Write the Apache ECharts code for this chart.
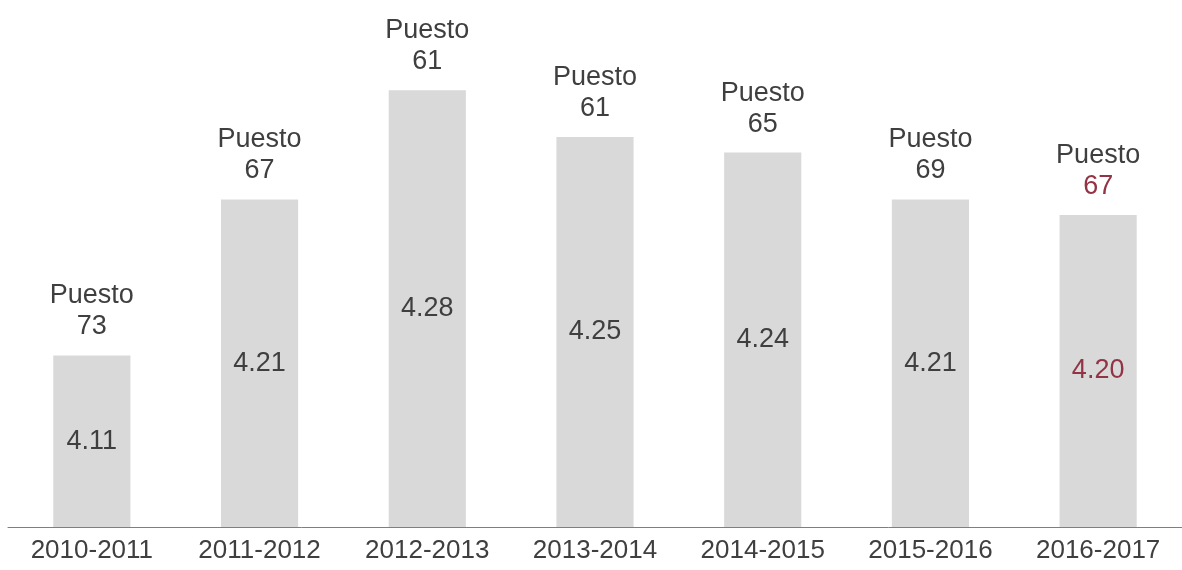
<!DOCTYPE html>
<html>
<head>
<meta charset="utf-8">
<script src="https://cdn.jsdelivr.net/npm/echarts@6/dist/echarts.min.js"></script>
<style>
  html, body { margin: 0; padding: 0; background: #fff; }
  #chart { width: 1182px; height: 570px; }
</style>
</head>
<body>
<div id="chart"></div>
<script>
// Índice por temporada y puesto en el ranking
const categories = ['2010-2011', '2011-2012', '2012-2013', '2013-2014', '2014-2015', '2015-2016', '2016-2017'];
const scores = [4.11, 4.21, 4.28, 4.25, 4.24, 4.21, 4.20];
const ranks = [73, 67, 61, 61, 65, 69, 67];
const highlightIndex = 6; // latest season, shown in red

const FONT = '"Liberation Sans", Arial, sans-serif';
const TEXT = '#3f3f3f';
const RED = '#933446';

const chart = echarts.init(document.getElementById('chart'), null, { renderer: 'canvas' });

chart.setOption({
  animation: false,
  backgroundColor: '#ffffff',
  grid: { left: 8, right: -4, top: 59, bottom: 43 },
  xAxis: {
    type: 'category',
    data: categories,
    axisLine: { lineStyle: { color: '#7f7f7f', width: 1 } },
    axisTick: { show: false },
    axisLabel: { color: TEXT, fontSize: 26, fontFamily: FONT, margin: 11 }
  },
  yAxis: {
    type: 'value',
    min: 4.0,
    max: 4.3,
    show: false,
    splitLine: { show: false }
  },
  series: [
    {
      // score bars with the value written inside
      type: 'bar',
      barWidth: '46%',
      data: scores.map((v, i) => ({
        value: v,
        label: { color: i === highlightIndex ? RED : TEXT }
      })),
      itemStyle: { color: '#d9d9d9' },
      label: {
        show: true,
        position: 'inside',
        fontSize: 27,
        fontFamily: FONT,
        formatter: p => p.value.toFixed(2)
      }
    },
    {
      // transparent overlay carrying the ranking label above each bar
      type: 'bar',
      barWidth: '46%',
      barGap: '-100%',
      silent: true,
      itemStyle: { color: 'rgba(0,0,0,0)' },
      data: scores.map((v, i) => ({
        value: v,
        label: {
          rich: {
            p: { color: TEXT, fontSize: 27, fontFamily: FONT, lineHeight: 31 },
            r: { color: i === highlightIndex ? RED : TEXT, fontSize: 27, fontFamily: FONT, lineHeight: 31 }
          }
        }
      })),
      label: {
        show: true,
        position: 'top',
        distance: 13,
        align: 'center',
        formatter: p => '{p|Puesto}\n{r|' + ranks[p.dataIndex] + '}'
      }
    }
  ]
});
</script>
</body>
</html>
